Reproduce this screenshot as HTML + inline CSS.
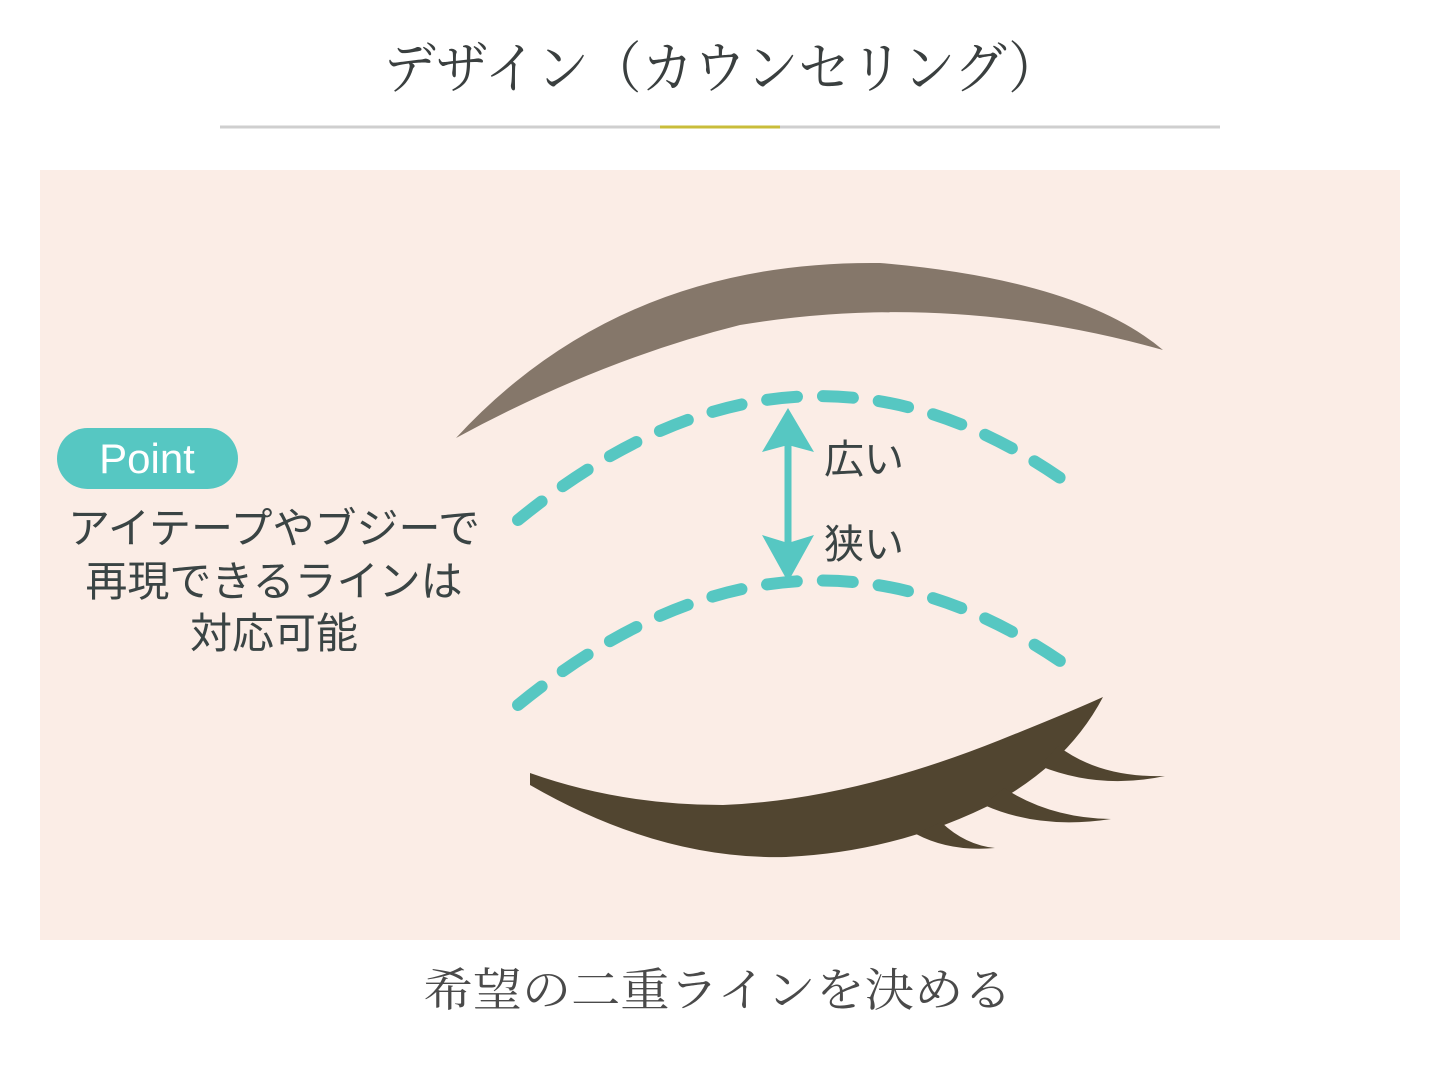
<!DOCTYPE html>
<html><head><meta charset="utf-8"><style>
body{margin:0;width:1440px;height:1080px;background:#fff;overflow:hidden}
svg{display:block}
</style></head><body>
<svg width="1440" height="1080" viewBox="0 0 1440 1080" xmlns="http://www.w3.org/2000/svg">
<text x="722" y="88" text-anchor="middle" textLength="677" lengthAdjust="spacingAndGlyphs" font-family="Noto Serif CJK JP, Noto Serif CJK SC, serif" font-size="56" fill="#3a3f3f">デザイン（カウンセリング）</text>
<line x1="220" y1="127" x2="1220" y2="127" stroke="#cfcfcf" stroke-width="3"/>
<line x1="660" y1="127" x2="780" y2="127" stroke="#c9bd3a" stroke-width="3"/>
<rect x="40" y="170" width="1360" height="770" fill="#fbede6"/>
<path d="M456,438 Q600,360 740,325 Q950,290 1163,350 Q1080,280 880,263 Q620,260 456,438 Z" fill="#85776a"/>
<path d="M518,520 Q800,290 1073,487" fill="none" stroke="#56c7c2" stroke-width="12" stroke-linecap="round" stroke-dasharray="30,26"/>
<path d="M518,705 Q800,475 1073,670" fill="none" stroke="#56c7c2" stroke-width="12" stroke-linecap="round" stroke-dasharray="30,26"/>
<line x1="788" y1="440" x2="788" y2="550" stroke="#56c7c2" stroke-width="7"/>
<path d="M788,408 L762,452 L788,445 L814,452 Z" fill="#56c7c2"/>
<path d="M788,582 L762,535 L788,543 L814,535 Z" fill="#56c7c2"/>
<text x="824" y="473" font-family="Liberation Sans, Noto Sans CJK JP, sans-serif" font-size="40" fill="#3a4444">広い</text>
<text x="824" y="558" font-family="Liberation Sans, Noto Sans CJK JP, sans-serif" font-size="40" fill="#3a4444">狭い</text>
<path d="M530,773 Q620,805 723,805 Q850,800 1000,740 Q1070,712 1103,697 Q1070,760 1000,800 Q900,852 786,857 Q660,860 530,785 Z" fill="#514530"/>
<path d="M1058,746 Q1100,778 1165,776 Q1100,790 1040,766 Z" fill="#514530"/>
<path d="M1004,788 Q1050,818 1111,819 Q1040,830 984,805 Z" fill="#514530"/>
<path d="M941,822 Q965,845 995,848 Q950,852 916,834 Z" fill="#514530"/>
<rect x="57" y="428" width="181" height="61" rx="30.5" fill="#56c7c2"/>
<text x="147" y="473" text-anchor="middle" font-family="Liberation Sans, sans-serif" font-size="42" fill="#fff">Point</text>
<g font-family="Liberation Sans, Noto Sans CJK JP, sans-serif" font-size="42" fill="#3a4444" text-anchor="middle">
<text x="274" y="543">アイテープやブジーで</text>
<text x="274" y="596">再現できるラインは</text>
<text x="274" y="648">対応可能</text>
</g>
<text x="718" y="1006" text-anchor="middle" textLength="589" lengthAdjust="spacingAndGlyphs" font-family="Noto Serif CJK JP, Noto Serif CJK SC, serif" font-size="46" fill="#4a4a4a">希望の二重ラインを決める</text>
</svg>
</body></html>
